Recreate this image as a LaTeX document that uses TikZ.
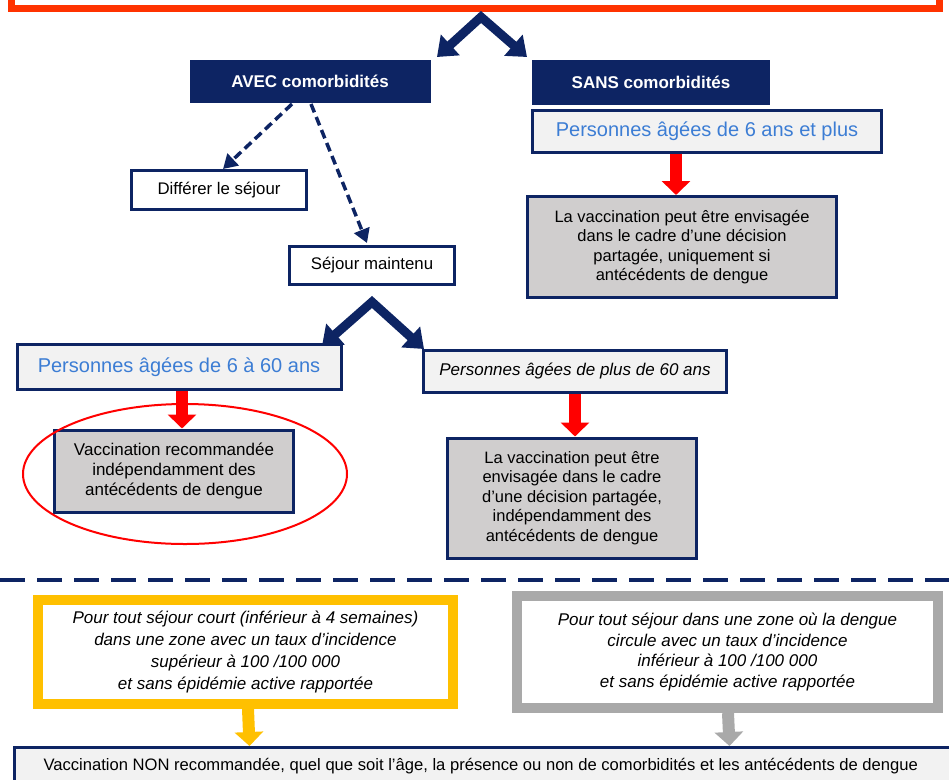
\documentclass[tikz,border=0pt]{standalone}
\usepackage{fontspec}
\setmainfont{Liberation Sans}
\usetikzlibrary{arrows.meta,shapes.geometric}
\definecolor{navy}{HTML}{0D2463}
\definecolor{topred}{HTML}{FF3300}
\definecolor{agetext}{HTML}{3C7DD4}
\definecolor{lightfill}{HTML}{F2F2F2}
\definecolor{resgrey}{HTML}{D0CECE}
\definecolor{ambre}{HTML}{FFC000}
\definecolor{greyframe}{HTML}{A9A9A9}
\begin{document}
\begin{tikzpicture}[x=1pt,y=-1pt,
  navybox/.style={draw=navy,fill=navy,text=white,font=\bfseries\fontsize{17}{20}\selectfont,line width=1pt,inner sep=0pt},
  agebox/.style={draw=navy,fill=lightfill,line width=3pt,inner sep=0pt},
  whitebox/.style={draw=navy,fill=white,line width=3pt,inner sep=0pt,font=\fontsize{16.8}{19}\selectfont},
  resbox/.style={draw=navy,fill=resgrey,line width=3pt,inner sep=0pt,align=center,font=\fontsize{16.5}{19.5}\selectfont},
  condbox/.style={fill=white,line width=10pt,inner sep=0pt,align=center,font=\itshape\fontsize{17}{22}\selectfont},
  bigcaret/.style={draw=navy,line width=9pt,line join=miter,{Triangle[width=27pt,length=18pt]}-{Triangle[width=27pt,length=18pt]}},
  dasharrow/.style={draw=navy,line width=3.5pt,dash pattern=on 9pt off 5pt,-{Triangle[width=16pt,length=14pt]}},
  blockarrow/.style={line width=12pt,-{Triangle[width=28pt,length=14pt]}}
]
\useasboundingbox (0,0) rectangle (949,779);

% top box (cut by the frame)
\node[draw=topred,line width=7pt,minimum width=928pt,minimum height=40pt,inner sep=0pt] (top) at (475,-12) {};

% comorbidity boxes
\node[navybox,minimum width=240pt,minimum height=42pt] (avec) at (310,81) {AVEC comorbidités};
\node[navybox,minimum width=237pt,minimum height=44pt] (sans) at (651,82) {SANS comorbidités};

% top caret
\coordinate (apex1) at (481,17);
\coordinate (l1) at (437,57);
\coordinate (r1) at (527,57);
\draw[bigcaret] (l1) -- (apex1) -- (r1);

% SANS branch
\node[agebox,minimum width=349pt,minimum height=42pt,text=agetext,font=\fontsize{20}{24}\selectfont] (p6plus) at (707,131) {Personnes âgées de 6 ans et plus};
\node[resbox,minimum width=309pt,minimum height=101pt] (sansres) at (682,247) {La vaccination peut être envisagée\\dans le cadre d'une décision\\partagée, uniquement si\\antécédents de dengue};
\draw[blockarrow,draw=red] ([xshift=-31pt]p6plus.south) -- ([xshift=-6pt]sansres.north);

% AVEC branch
\node[whitebox,minimum width=175pt,minimum height=39pt] (differer) at (219,190) {Différer le séjour};
\node[whitebox,minimum width=165pt,minimum height=38pt] (maintenu) at (372,265) {Séjour maintenu};
\coordinate (d1) at (292,104);
\coordinate (d2) at (311,104);
\coordinate (d1e) at (223,169);
\coordinate (d2e) at (367,243);
\draw[dasharrow] (d1) -- (d1e);
\draw[dasharrow] (d2) -- (d2e);

% second caret
\coordinate (apex2) at (372,302);
\coordinate (l2) at (322,346);
\coordinate (r2) at (424,349);
\draw[bigcaret] (l2) -- (apex2) -- (r2);

\node[agebox,minimum width=324pt,minimum height=45pt,text=agetext,font=\fontsize{20}{24}\selectfont] (p660) at (179,367) {Personnes âgées de 6 à 60 ans};
\node[agebox,minimum width=303pt,minimum height=42pt,font=\itshape\fontsize{17}{20}\selectfont] (p60plus) at (575,371) {Personnes âgées de plus de 60 ans};

\node[resbox,minimum width=239pt,minimum height=82pt,font=\fontsize{17}{20}\selectfont] (rec) at (174,471) {Vaccination recommandée\\indépendamment des\\antécédents de dengue};
\node[resbox,minimum width=249pt,minimum height=120pt] (partage) at (572,498) {La vaccination peut être\\envisagée dans le cadre\\d'une décision partagée,\\indépendamment des\\antécédents de dengue};

\draw[blockarrow,draw=red] ([xshift=3pt]p660.south) -- ([xshift=8pt]rec.north);
\draw[blockarrow,draw=red] (p60plus.south) -- ([xshift=3pt]partage.north);

\node[draw=red,line width=2pt,ellipse,minimum width=324pt,minimum height=140pt] (circ) at (185,474) {};

% separator
\coordinate (sepL) at (0,580);
\coordinate (sepR) at (949,580);
\draw[navy,line width=4pt,dash pattern=on 25pt off 12pt] (sepL) -- (sepR);

% bottom conditions
\node[condbox,draw=ambre,minimum width=415pt,minimum height=104pt] (court) at (245.5,652) {Pour tout séjour court (inférieur à 4 semaines)\\dans une zone avec un taux d'incidence\\supérieur à 100 /100 000\\et sans épidémie active rapportée};
\node[condbox,draw=greyframe,minimum width=421pt,minimum height=112pt,font=\itshape\fontsize{17}{20.5}\selectfont] (faible) at (727.5,652) {Pour tout séjour dans une zone où la dengue\\circule avec un taux d'incidence\\inférieur à 100 /100 000\\et sans épidémie active rapportée};

\node[draw=navy,fill=lightfill,line width=3pt,minimum width=960pt,minimum height=50pt,inner sep=0pt,anchor=north west] (nonrec) at (13,746) {};
\node[font=\fontsize{16.6}{20}\selectfont,anchor=west] (nonrectext) at (40,766) {Vaccination NON recommandée, quel que soit l'âge, la présence ou non de comorbidités et les antécédents de dengue};

\draw[blockarrow,draw=ambre] ([xshift=2.5pt]court.south) -- ([xshift=-245pt]nonrec.north);
\draw[blockarrow,draw=greyframe] ([xshift=0.5pt]faible.south) -- ([xshift=235pt]nonrec.north);
\end{tikzpicture}
\end{document}
